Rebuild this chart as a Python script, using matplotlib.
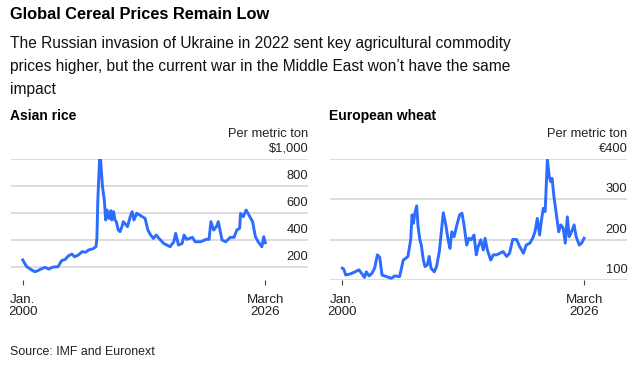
import matplotlib
matplotlib.use('Agg')
import matplotlib.pyplot as plt
from matplotlib.transforms import Bbox, TransformedBbox

plt.rcParams['font.family'] = ['Liberation Sans', 'DejaVu Sans']

##########################################
## Data  ##
##########################################

rice_year = [2000.0, 2000.4, 2000.8, 2001.3, 2001.6, 2001.9, 2002.4, 2002.8, 2003.3, 2003.8,
             2004.2, 2004.6, 2004.9, 2005.3, 2005.6, 2006.0, 2006.4, 2006.8, 2007.1, 2007.6,
             2007.9, 2008.0, 2008.1, 2008.3, 2008.4, 2008.6, 2008.8, 2008.95, 2009.1, 2009.3,
             2009.5, 2009.6, 2009.8, 2009.95, 2010.1, 2010.3, 2010.5, 2010.7, 2010.85, 2011.0,
             2011.3, 2011.6, 2011.8, 2012.0, 2012.3, 2012.6, 2013.2, 2013.5, 2013.8, 2014.1,
             2014.4, 2014.7, 2015.2, 2015.9, 2016.3, 2016.5, 2016.8, 2017.2, 2017.4, 2017.7,
             2018.0, 2018.3, 2018.6, 2019.2, 2019.8, 2020.1, 2020.3, 2020.6, 2020.9, 2021.1,
             2021.5, 2021.9, 2022.4, 2022.8, 2023.1, 2023.4, 2023.5, 2023.8, 2024.1, 2024.4,
             2024.8, 2025.1, 2025.4, 2025.8, 2026.0, 2026.17]
rice_price = [252, 205, 185, 165, 172, 183, 197, 185, 200, 202,
              247, 257, 281, 296, 276, 289, 313, 310, 326, 336,
              350, 412, 696, 1017, 993, 795, 696, 548, 622, 560,
              617, 548, 610, 548, 536, 474, 462, 499, 536, 524,
              499, 573, 610, 548, 598, 585, 560, 474, 437, 412,
              437, 412, 375, 350, 387, 449, 363, 375, 437, 405,
              412, 420, 387, 387, 405, 405, 536, 474, 499, 536,
              400, 387, 420, 420, 474, 487, 597, 573, 622, 585,
              536, 424, 387, 350, 424, 380]

wheat_year = [2000.0, 2000.15, 2000.37, 2000.9, 2001.4, 2001.8, 2002.1, 2002.4, 2002.6, 2002.9,
              2003.2, 2003.5, 2003.8, 2004.05, 2004.3, 2004.8, 2005.3, 2005.7, 2006.2, 2006.6,
              2006.85, 2007.1, 2007.4, 2007.55, 2007.7, 2007.85, 2008.05, 2008.2, 2008.4, 2008.55,
              2008.77, 2008.95, 2009.2, 2009.4, 2009.6, 2009.95, 2010.2, 2010.5, 2010.7, 2010.93,
              2011.2, 2011.45, 2011.65, 2011.85, 2012.1, 2012.4, 2012.7, 2012.95, 2013.17, 2013.46,
              2013.7, 2013.95, 2014.25, 2014.5, 2014.7, 2014.98, 2015.25, 2015.45, 2015.7, 2016.06,
              2016.35, 2016.7, 2017.07, 2017.4, 2017.79, 2018.1, 2018.44, 2018.85, 2019.2, 2019.6,
              2019.9, 2020.3, 2020.6, 2020.85, 2021.1, 2021.35, 2021.55, 2021.75, 2021.95, 2022.19,
              2022.4, 2022.55, 2022.7, 2022.9, 2023.2, 2023.42, 2023.65, 2023.9, 2024.13, 2024.35,
              2024.55, 2024.8, 2025.08, 2025.3, 2025.65, 2025.9, 2026.16]
wheat_price = [130, 128, 113, 116, 121, 126, 117, 107, 121, 111,
               117, 130, 163, 157, 113, 109, 105, 111, 109, 150,
               154, 159, 200, 262, 241, 266, 284, 233, 200, 187,
               150, 134, 138, 159, 130, 121, 134, 171, 216, 267,
               237, 200, 179, 220, 208, 237, 262, 266, 237, 187,
               204, 200, 212, 163, 183, 200, 175, 204, 175, 150,
               163, 163, 167, 171, 159, 167, 201, 201, 183, 167,
               187, 192, 204, 220, 253, 212, 249, 278, 270, 398,
               356, 344, 352, 307, 257, 220, 237, 229, 192, 257,
               208, 220, 237, 208, 187, 192, 204]

rice_ticks = [200, 400, 600, 800, 1000]
rice_labels = ['200', '400', '600', '800', '$1,000']
wheat_ticks = [100, 200, 300, 400]
wheat_labels = ['100', '200', '300', '€400']

date_ticks = [2000.0, 2026.17]
date_labels = ['Jan.\n2000', 'March\n2026']

BLUE = '#2c6cff'
GRID = '#dadada'

fig = plt.figure(figsize=(6.37, 3.73), dpi=100)

##########################################
## Header / footer                      ##
##########################################

fig.text(0.0157, 0.960, 'Global Cereal Prices Remain Low', fontsize=11.8,
         fontweight='bold', va='center', ha='left')
sub_lines = ['The Russian invasion of Ukraine in 2022 sent key agricultural commodity',
             'prices higher, but the current war in the Middle East won\u2019t have the same',
             'impact']
for i, line in enumerate(sub_lines):
    fig.text(0.0157, 0.884 - i * 0.0615, line, fontsize=11.2, va='center', ha='left',
             color='#111111')
fig.text(0.0157, 0.055, 'Source: IMF and Euronext', fontsize=8.9, va='center', ha='left',
         color='#222222')


def panel(rect, title, years, prices, yticks, ylabels, ylim, xlim):
    ax = fig.add_axes(rect)
    ax.plot(years, prices, color=BLUE, lw=2.1, solid_joinstyle='round', zorder=3)
    ax.set_ylim(*ylim)
    ax.set_xlim(*xlim)
    for s in ax.spines.values():
        s.set_visible(False)
    for v, lab in zip(yticks, ylabels):
        ax.axhline(v, color=GRID, lw=1.3, zorder=1)
        ax.annotate(lab, xy=(1, v), xycoords=('axes fraction', 'data'),
                    xytext=(0, 3), textcoords='offset points',
                    ha='right', va='bottom', fontsize=9.3, color='#222222')
    ax.annotate('Per metric ton', xy=(1, yticks[-1]), xycoords=('axes fraction', 'data'),
                xytext=(0, 14.0), textcoords='offset points',
                ha='right', va='bottom', fontsize=9.3, color='#222222')
    ax.set_yticks([])
    ax.set_xticks(date_ticks, date_labels)
    ax.tick_params(axis='x', length=3.6, width=0.8, color='#444444', pad=6,
                   labelsize=9.6, labelcolor='#222222')
    # the year labels get cut at the panel's left edge, as in the original
    clip = TransformedBbox(Bbox([[rect[0] - 1.0 / 637, 0], [rect[0] + rect[2] + 0.02, 1]]),
                           fig.transFigure)
    for lbl in ax.get_xticklabels():
        lbl.set_linespacing(1.0)
        lbl.set_clip_box(clip)
        lbl.set_clip_on(True)
    fig.text(rect[0] - 0.0011, 0.690, title, fontsize=10, fontweight='bold',
             va='center', ha='left')
    return ax


panel([0.0168, 0.248, 0.4672, 0.3257], 'Asian rice', rice_year, rice_price,
      rice_ticks, rice_labels, (100, 1000), (1998.70, 2030.81))
panel([0.5176, 0.248, 0.4672, 0.3257], 'European wheat', wheat_year, wheat_price,
      wheat_ticks, wheat_labels, (99.5, 400), (1998.64, 2030.84))

fig.savefig('out.png', dpi=100)
